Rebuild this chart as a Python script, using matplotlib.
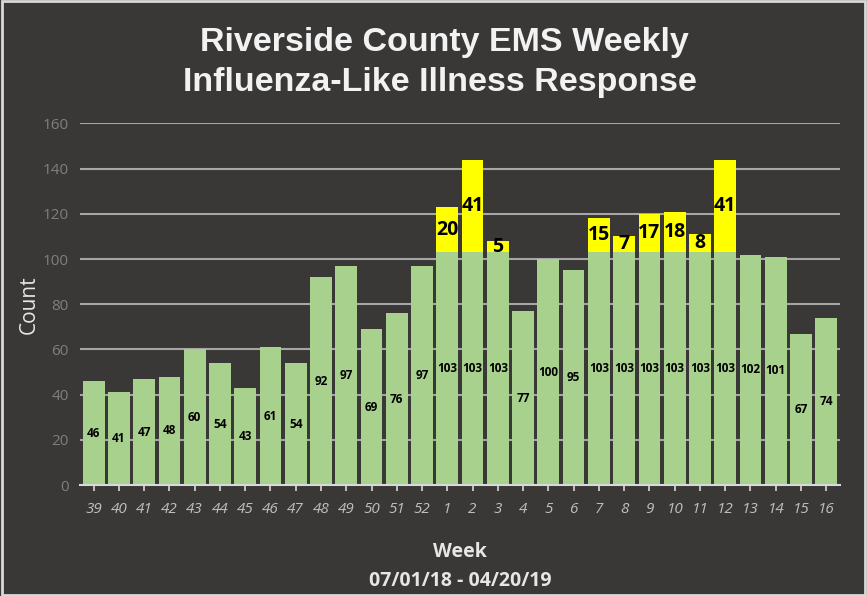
import matplotlib.pyplot as plt
import numpy as np

weeks = ['39', '40', '41', '42', '43', '44', '45', '46', '47', '48', '49', '50', '51', '52',
         '1', '2', '3', '4', '5', '6', '7', '8', '9', '10', '11', '12', '13', '14', '15', '16']
base = [46, 41, 47, 48, 60, 54, 43, 61, 54, 92, 97, 69, 76, 97,
        103, 103, 103, 77, 100, 95, 103, 103, 103, 103, 103, 103, 102, 101, 67, 74]
extra = [0, 0, 0, 0, 0, 0, 0, 0, 0, 0, 0, 0, 0, 0,
         20, 41, 5, 0, 0, 0, 15, 7, 17, 18, 8, 41, 0, 0, 0, 0]

bg = '#3a3836'
green = '#a9d18e'
yellow = '#ffff00'

plt.rcParams['font.family'] = ['Open Sans', 'DejaVu Sans']

fig = plt.figure(figsize=(8.67, 5.96), dpi=100, facecolor=bg)
ax = fig.add_axes([0.092, 0.186, 0.877, 0.607])
ax.set_facecolor(bg)

x = np.arange(len(weeks))
ax.bar(x, base, width=0.86, color=green, zorder=3)
ax.bar(x, extra, bottom=base, width=0.86, color=yellow, zorder=3)

# labels
for i in range(len(weeks)):
    ax.text(x[i], base[i] / 2, str(base[i]), ha='center', va='center',
            fontsize=8.5, fontweight='bold', color='black', zorder=4)
    if extra[i] > 0:
        ax.text(x[i], base[i] + extra[i] / 2, str(extra[i]), ha='center', va='center',
                fontsize=14, fontweight='bold', color='black', zorder=4)

ax.set_ylim(0, 160)
ax.set_xlim(-0.55, len(weeks) - 0.45)
ax.set_yticks(range(0, 161, 20))
ax.yaxis.grid(True, color='#a6a6a6', linewidth=1.5, zorder=0)
ax.set_axisbelow(True)

for s in ['top', 'right', 'left']:
    ax.spines[s].set_visible(False)
ax.spines['bottom'].set_color('#d9d9d9')
ax.spines['bottom'].set_linewidth(1.5)
ax.spines['bottom'].set_zorder(5)

ax.set_xticks(x)
ax.set_xticklabels(weeks, fontsize=11, style='italic', color='#bfbfbf')
ax.tick_params(axis='x', length=4, color='#d9d9d9', width=1.2, pad=8)
ax.tick_params(axis='y', length=0, labelsize=11, labelcolor='#7f7f7f', pad=8)

ax.set_ylabel('Count', fontsize=15, color='#e6e6e6', labelpad=2)
ax.set_xlabel('Week\n07/01/18 - 04/20/19', fontsize=14, color='#e6e6e6',
              fontweight='bold', linespacing=1.6, labelpad=18)

fig.text(0.512, 0.928, 'Riverside County EMS Weekly', ha='center', va='center',
         fontsize=24.5, fontweight='bold', color='#f2f2f2', family='Liberation Sans')
fig.text(0.508, 0.861, 'Influenza-Like Illness Response', ha='center', va='center',
         fontsize=24.5, fontweight='bold', color='#f2f2f2', family='Liberation Sans')

# light frame
fig.patches.append(plt.Rectangle((0.002, 0.002), 0.996, 0.996, transform=fig.transFigure,
                                 fill=False, edgecolor='#d9d9d9', linewidth=2))

fig.savefig('out.png', dpi=100, facecolor=bg)
